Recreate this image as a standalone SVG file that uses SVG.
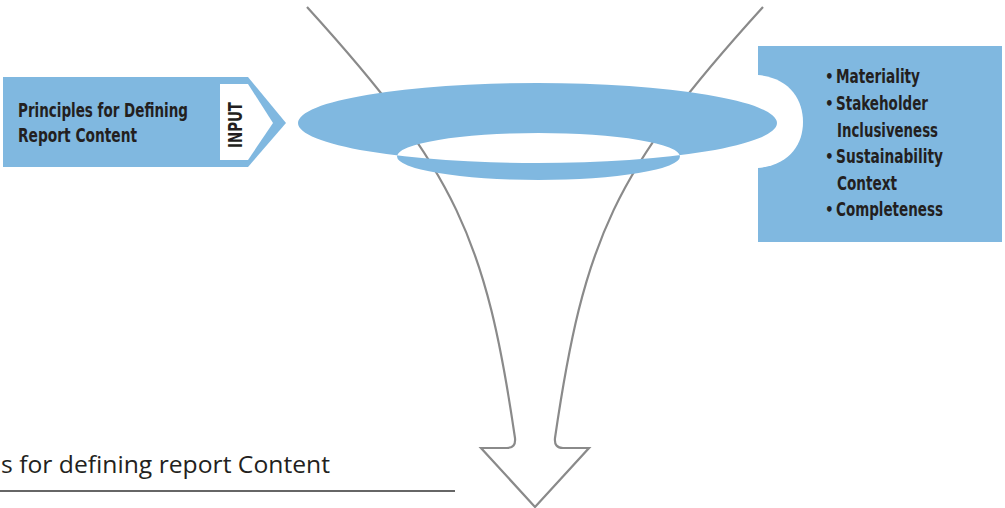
<svg xmlns="http://www.w3.org/2000/svg" width="1005" height="508" viewBox="0 0 1005 508">
  <style>
    .blue { fill: #80b8e0; }
    .white { fill: #ffffff; }
    .lbl { font-family: "Liberation Sans Narrow", "DejaVu Sans Condensed", "Roboto", sans-serif; font-stretch: condensed; font-weight: bold; font-size: 20px; fill: #231f20; }
    .bul { font-size: 15px; }
    .cap { font-family: "Open Sans", "Liberation Sans", sans-serif; font-size: 24px; fill: #231f20; }
    .funnel { fill: none; stroke: #8a8a8a; stroke-width: 2.2; stroke-linejoin: miter; }
  </style>
  <rect width="1005" height="508" fill="#ffffff"/>

  <g id="connectors">
    <path class="funnel" d="M307,7 C457,172 486,240 515,438 Q516,448 507,448 L481,448 L535,507 L589,448 L563,448 Q554,448 555,438 C584,240 613,172 763,7"/>
  </g>

  <g id="input-box">
    <polygon class="blue" points="3,77 248,77 286,123 248,167 3,167"/>
    <polygon class="white" points="220,84 248,84 273,123 248,160 220,160"/>
    <text class="lbl" x="18" y="117" textLength="170" lengthAdjust="spacingAndGlyphs">Principles for Defining</text>
    <text class="lbl" x="18" y="142" textLength="119" lengthAdjust="spacingAndGlyphs">Report Content</text>
    <text class="lbl" transform="translate(242,125) rotate(-90)" x="0" y="0" text-anchor="middle" textLength="46" lengthAdjust="spacingAndGlyphs">INPUT</text>
  </g>

  <g id="principles-list">
    <rect class="blue" x="758" y="46" width="244" height="196"/>
    <path class="white" d="M758,75 C790,78 803,100 803,122 C803,144 790,165 758,168 Z"/>
    <g class="lbl">
      <text class="bul" x="825" y="82">•</text>
      <text x="836" y="83" textLength="84" lengthAdjust="spacingAndGlyphs">Materiality</text>
      <text class="bul" x="825" y="109">•</text>
      <text x="836" y="110" textLength="92" lengthAdjust="spacingAndGlyphs">Stakeholder</text>
      <text x="837" y="137" textLength="101" lengthAdjust="spacingAndGlyphs">Inclusiveness</text>
      <text class="bul" x="825" y="162">•</text>
      <text x="836" y="163" textLength="107" lengthAdjust="spacingAndGlyphs">Sustainability</text>
      <text x="837" y="190" textLength="60" lengthAdjust="spacingAndGlyphs">Context</text>
      <text class="bul" x="825" y="215">•</text>
      <text x="836" y="216" textLength="107" lengthAdjust="spacingAndGlyphs">Completeness</text>
    </g>
  </g>

  <g id="ring">
    <path class="blue" fill-rule="evenodd" d="M298,123 a239.5,40 0 1,0 479,0 a239.5,40 0 1,0 -479,0 Z M397,156.5 a141.5,23.5 0 1,0 283,0 a141.5,23.5 0 1,0 -283,0 Z"/>
  </g>

  <g id="caption">
    <text class="cap" x="1" y="473" textLength="329" lengthAdjust="spacingAndGlyphs">s for defining report Content</text>
    <line x1="0" y1="491" x2="455" y2="491" stroke="#333333" stroke-width="1.5"/>
  </g>
</svg>
